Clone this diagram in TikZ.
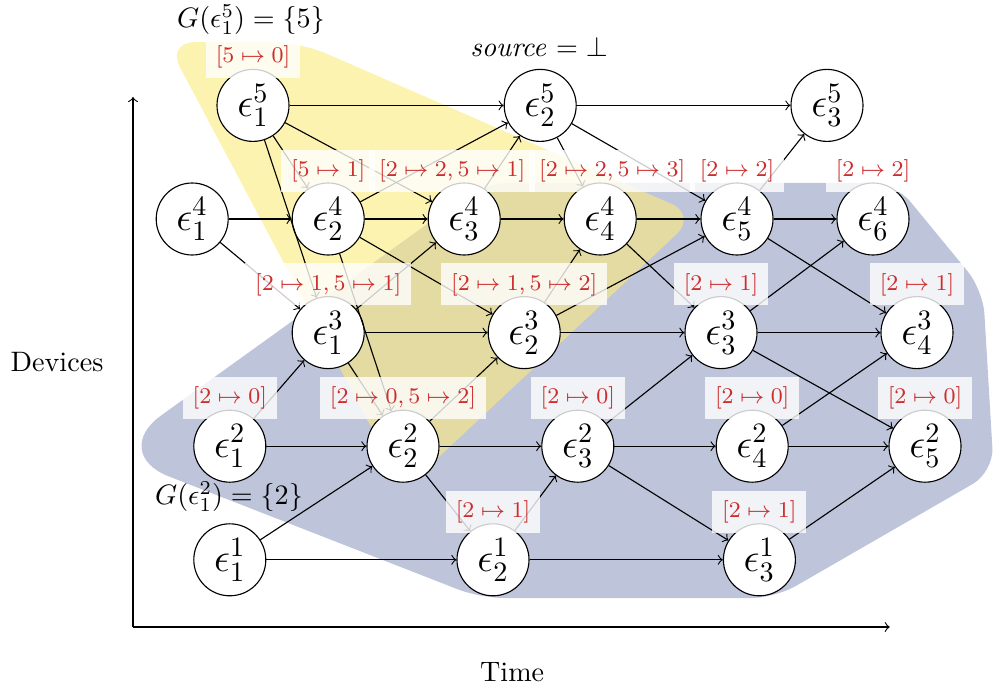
\documentclass[tikz,border=0pt]{standalone}
\usetikzlibrary{positioning}

\definecolor{hullblue}{RGB}{190,197,218}
\definecolor{hullyellow}{RGB}{252,235,123}
\definecolor{mapred}{RGB}{205,45,45}

\begin{document}
\begin{tikzpicture}[
    event/.style={circle, draw=black, fill=white, minimum size=0.9cm, inner sep=0pt, font=\Large},
    mapbox/.style={rectangle, fill=white, fill opacity=0.8, text opacity=1, text=mapred, inner sep=3.5pt, font=\footnotesize},
    edge/.style={->}
]

\useasboundingbox (-1.6625,-0.7875) rectangle (10.75,7.8375);

% Groups
\fill[hullblue, rounded corners=0.3cm] (6.2,0.3625) -- (4.3375,0.3625) [rounded corners=0.8cm] -- (-0.3,2.175) [rounded corners=0.3cm] -- (4.39,5.55) -- (9.525,5.55) -- (10.625,4.2125) -- (10.76,1.94) -- (8.025,0.3625) -- cycle;
\fill[hullyellow, fill opacity=0.6, rounded corners=0.35cm] (1.2,7.31) -- (2.09,7.31) -- (7.05,5.15) -- (3.39,1.72) -- (0.42,7.31) -- cycle;

% Axes
\coordinate (origin) at (0,0);
\coordinate (ytop) at (0,6.625);
\coordinate (xend) at (9.46,0);
\draw[->] (origin) -- (ytop);
\draw[->] (origin) -- (xend);
\node at (-0.95,3.31) (devices) {Devices};
\node at (4.74,-0.56) (time) {Time};

% Events, one row per device
\foreach \d/\t/\x/\y in {5/1/1.5/6.52, 5/2/5.09/6.52, 5/3/8.675/6.52,
    4/1/0.74/5.10, 4/2/2.44/5.10, 4/3/4.14/5.10, 4/4/5.84/5.10, 4/5/7.55/5.10, 4/6/9.25/5.10,
    3/1/2.44/3.68, 3/2/4.89/3.68, 3/3/7.35/3.68, 3/4/9.8/3.68,
    2/1/1.21/2.26, 2/2/3.375/2.26, 2/3/5.56/2.26, 2/4/7.74/2.26, 2/5/9.9/2.26,
    1/1/1.21/0.84, 1/2/4.5/0.84, 1/3/7.83/0.84} {
    \node[event] at (\x,\y) (e\d\t) {$\epsilon^{\d}_{\t}$};
}

% Messages
\foreach \a/\b in {e51/e52, e52/e53, e51/e42, e51/e43, e51/e31,
    e41/e42, e41/e31, e42/e43, e42/e52, e42/e32, e42/e22,
    e43/e44, e43/e52, e44/e45, e44/e33, e45/e46, e45/e53, e45/e34,
    e52/e44, e52/e45, e31/e32, e31/e43, e31/e22,
    e32/e33, e32/e44, e32/e45, e33/e34, e33/e46, e33/e25,
    e21/e22, e21/e31, e22/e23, e22/e32, e22/e12,
    e23/e24, e23/e33, e23/e13, e24/e25, e24/e34,
    e11/e12, e11/e22, e12/e13, e12/e23, e13/e25} {
    \draw[edge] (\a) -- (\b);
}

% Annotations
\node at (1.475,7.59) (gfive) {$G(\epsilon^5_1) = \{5\}$};
\node at (5.075,7.25) (src) {$\mathit{source} = \bot$};
\node at (1.2,1.625) (gtwo) {$G(\epsilon^2_1) = \{2\}$};

% Counters above the events
\foreach \n/\m in {e51/{5\mapsto 0}, e42/{5\mapsto 1}, e45/{2\mapsto 2}, e46/{2\mapsto 2},
    e31/{2\mapsto 1, 5\mapsto 1}, e32/{2\mapsto 1, 5\mapsto 2}, e33/{2\mapsto 1}, e34/{2\mapsto 1},
    e21/{2\mapsto 0}, e22/{2\mapsto 0, 5\mapsto 2}, e23/{2\mapsto 0}, e24/{2\mapsto 0}, e25/{2\mapsto 0},
    e12/{2\mapsto 1}, e13/{2\mapsto 1}} {
    \node[mapbox, above=-0.125cm of \n] (l\n) {$[\m]$};
}
\node[mapbox, above=-0.125cm of e43, xshift=-0.15cm] (le43) {$[2\mapsto 2, 5\mapsto 1]$};
\node[mapbox, above=-0.125cm of e44, xshift=0.15cm] (le44) {$[2\mapsto 2, 5\mapsto 3]$};

\end{tikzpicture}
\end{document}
